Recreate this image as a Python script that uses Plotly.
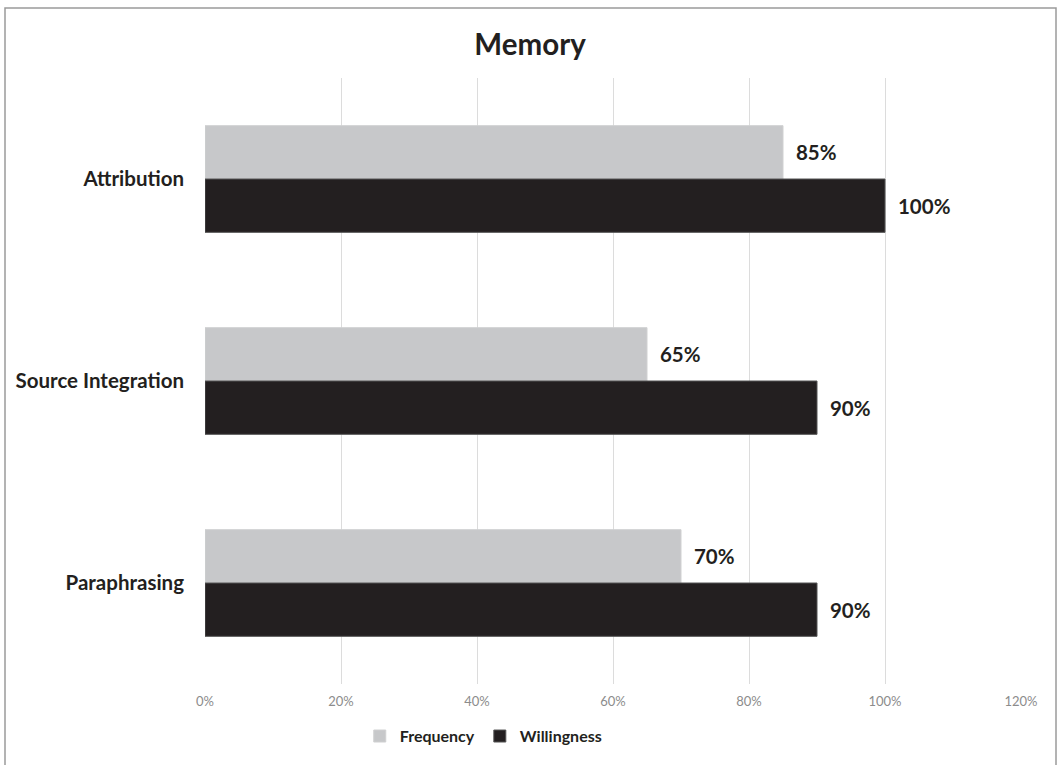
import plotly.graph_objects as go

categories = ["Attribution", "Source Integration", "Paraphrasing"]
frequency = [85, 65, 70]
willingness = [100, 90, 90]
x_ticks = [0, 20, 40, 60, 80, 100, 120]
x_tick_labels = ["0%", "20%", "40%", "60%", "80%", "100%", "120%"]

FONT = "Lato"
DARK = "#231f20"
LIGHT = "#c7c8ca"

fig = go.Figure()
fig.add_trace(go.Bar(
    name="Frequency", y=categories, x=frequency, orientation="h",
    marker=dict(color=LIGHT, line=dict(color="#d0d1d2", width=1)),
    text=[f"\u00a0\u00a0{v}%" for v in frequency], textposition="outside",
    textfont=dict(family=FONT, size=20.5, color=DARK, weight="bold"),
    cliponaxis=False,
))
fig.add_trace(go.Bar(
    name="Willingness", y=categories, x=willingness, orientation="h",
    marker=dict(color=DARK, line=dict(color="#555555", width=1)),
    text=[f"\u00a0\u00a0{v}%" for v in willingness], textposition="outside",
    textfont=dict(family=FONT, size=20.5, color=DARK, weight="bold"),
    cliponaxis=False,
))

fig.update_layout(
    width=1058, height=765,
    margin=dict(l=205, r=37, t=78, b=73),
    paper_bgcolor="white", plot_bgcolor="white",
    barmode="group", bargap=0.472, bargroupgap=0,
    title=dict(text="<b>Memory</b>", x=0.501, xanchor="center", y=0.941, yanchor="middle",
               font=dict(family=FONT, size=29.5, color=DARK)),
    font=dict(family=FONT, color=DARK),
    showlegend=True,
    legend=dict(orientation="h", x=0.341, xanchor="center", y=-0.086, yanchor="middle",
                font=dict(family=FONT, size=16, color=DARK, weight="bold"),
                itemwidth=30, traceorder="normal"),
    xaxis=dict(range=[0, 120], tickvals=x_ticks, ticktext=x_tick_labels,
               showgrid=True, gridcolor="#dcdcdc", gridwidth=1,
               zeroline=False, showline=False, ticks="",
               tickfont=dict(family=FONT, size=13, color="#8c8c8c"),
               ticklabelstandoff=8),
    yaxis=dict(autorange="reversed", showgrid=False, zeroline=False, showline=False, ticks="",
               tickfont=dict(family=FONT, size=20.5, color=DARK, weight="bold"),
               ticklabelstandoff=20),
    shapes=[dict(type="rect", xref="paper", yref="paper",
                 x0=(5 - 205) / 816, x1=(1056 - 205) / 816,
                 y0=(692 - 775) / 614, y1=1 + (78 - 7) / 614,
                 line=dict(color="#9a9a9a", width=1.5), fillcolor="rgba(0,0,0,0)",
                 layer="below")],
)

fig.write_html("out.html")
